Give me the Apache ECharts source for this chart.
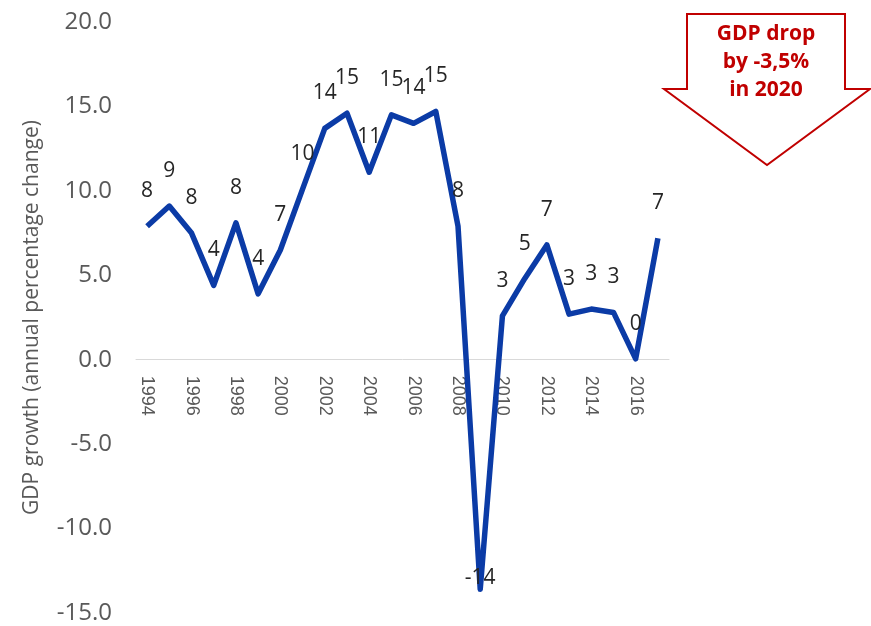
<!DOCTYPE html>
<html>
<head>
<meta charset="utf-8">
<script src="https://cdn.jsdelivr.net/npm/echarts@6/dist/echarts.min.js"></script>
<style>html,body{margin:0;padding:0;background:#fff}#c{width:871px;height:626px}</style>
</head>
<body>
<div id="c"></div>
<script>
var years = ['1994','1995','1996','1997','1998','1999','2000','2001','2002','2003','2004','2005','2006','2007','2008','2009','2010','2011','2012','2013','2014','2015','2016','2017'];
var gdpGrowth = [7.9, 9.1, 7.5, 4.4, 8.1, 3.9, 6.5, 10.1, 13.7, 14.6, 11.1, 14.5, 14.0, 14.7, 7.9, -13.6, 2.6, 4.8, 6.8, 2.7, 3.0, 2.8, 0.05, 7.2];
var yTicks = {min: -15, max: 20, interval: 5};
var yAxisTitle = 'GDP growth (annual percentage change)';
var calloutLines = ['GDP drop', 'by -3,5%', 'in 2020'];

var chart = echarts.init(document.getElementById('c'));
var seriesData = gdpGrowth.map(function (v) {
  var item = {value: v};
  if (v < -10) item.label = {distance: 0};
  return item;
});
var gridTop = 22, gridBottom = 13, chartH = 626;
chart.setOption({
  animation: false,
  grid: {left: 136, right: 202, top: gridTop, bottom: gridBottom, containLabel: false, outerBoundsMode: 'none'},
  xAxis: {
    type: 'category',
    data: years,
    boundaryGap: true,
    position: 'bottom',
    offset: 0,
    axisLine: {onZero: false, lineStyle: {color: '#d9d9d9', width: 1}},
    axisTick: {show: false},
    axisLabel: {interval: 1, rotate: -90, color: '#595959', fontSize: 18, fontFamily: 'Liberation Sans', margin: 16}
  },
  yAxis: {
    type: 'value',
    min: yTicks.min, max: yTicks.max, interval: yTicks.interval,
    splitLine: {show: false},
    axisLine: {show: false},
    axisTick: {show: false},
    axisLabel: {color: '#595959', fontSize: 24, fontFamily: 'Open Sans', margin: 24,
      formatter: function (v) { return v.toFixed(1); }},
    name: yAxisTitle,
    nameLocation: 'middle',
    nameRotate: 90,
    nameGap: 93,
    nameTextStyle: {color: '#595959', fontSize: 21, fontFamily: 'Open Sans'}
  },
  series: [{
    type: 'line',
    data: seriesData,
    symbol: 'circle',
    symbolSize: 1,
    showSymbol: true,
    itemStyle: {color: 'rgba(0,0,0,0)'},
    lineStyle: {color: '#0b3ba6', width: 5.5, join: 'round'},
    label: {show: true, position: 'top', distance: 24, color: '#262626', fontSize: 21,
      fontFamily: 'Open Sans',
      formatter: function (p) { return String(Math.round(p.value)); }}
  }],
  graphic: [{
    type: 'polygon',
    shape: {points: [[687, 14], [845, 14], [845, 89], [870, 89], [767, 165], [664, 89], [687, 89]]},
    style: {fill: '#fff', stroke: '#c00000', lineWidth: 2}
  }, {
    type: 'text',
    x: 766, y: 20,
    style: {
      text: calloutLines.join('\n'),
      align: 'center',
      fill: '#c00000', font: 'bold 21px "Open Sans"', lineHeight: 28
    }
  }]
});
// move the category axis up to the zero line using the value scale
var zeroY = chart.convertToPixel({yAxisIndex: 0}, 0);
var bottomY = chartH - gridBottom;
chart.setOption({xAxis: {offset: zeroY - bottomY}});
</script>
</body>
</html>
